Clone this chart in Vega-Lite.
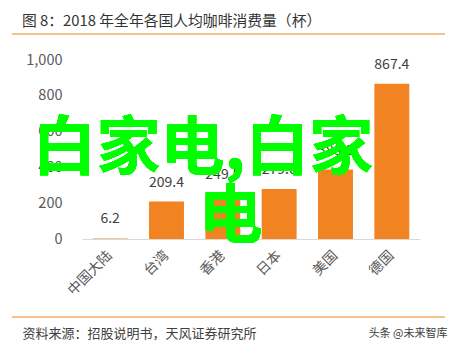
{
  "$schema": "https://vega.github.io/schema/vega-lite/v6.json",
  "autosize": {"type": "none"},
  "width": 338,
  "height": 179,
  "padding": {"left": 82, "top": 60, "right": 37, "bottom": 112},
  "background": "white",
  "config": {"view": {"stroke": null}, "font": "Noto Sans CJK SC"},
  "title": {
    "text": "图 8：2018 年全年各国人均咖啡消费量（杯）",
    "anchor": "start",
    "frame": "group",
    "dx": -60,
    "offset": -8,
    "baseline": "alphabetic",
    "fontSize": 14.8,
    "fontWeight": "normal",
    "color": "#333333",
    "font": "Noto Sans CJK SC"
  },
  "data": {
    "values": [
      {"region": "中国大陆", "cups": 6.2, "label": "6.2"},
      {"region": "台湾", "cups": 209.4, "label": "209.4"},
      {"region": "香港", "cups": 249.5, "label": "249.5"},
      {"region": "日本", "cups": 279.0, "label": "279.0"},
      {"region": "美国", "cups": 388.0, "label": "388.0"},
      {"region": "德国", "cups": 867.4, "label": "867.4"}
    ]
  },
  "encoding": {
    "x": {
      "field": "region",
      "type": "nominal",
      "sort": null,
      "scale": {"paddingInner": 0.38, "paddingOuter": 0.19},
      "axis": {
        "title": "资料来源：招股说明书，天风证券研究所",
        "titleAnchor": "start",
        "titleAlign": "left",
        "titleX": -60,
        "titleY": 94,
        "titleBaseline": "middle",
        "titleFontSize": 13,
        "titleFontWeight": "normal",
        "titleColor": "#404040",
        "labelAngle": -45,
        "labelAlign": "right",
        "labelBaseline": "middle",
        "labelFontSize": 14,
        "labelColor": "#595959",
        "labelPadding": 14,
        "ticks": false,
        "domainColor": "#d9d9d9",
        "domainWidth": 1.2
      }
    },
    "y": {
      "field": "cups",
      "type": "quantitative",
      "scale": {"domain": [0, 1000], "nice": false},
      "axis": {
        "values": [0, 200, 400, 600, 800, 1000],
        "format": ",d",
        "grid": false,
        "domain": false,
        "ticks": false,
        "labelPadding": 20,
        "labelFontSize": 14.5,
        "labelColor": "#595959",
        "title": "头条 @未来智库",
        "titleAngle": 0,
        "titleAlign": "right",
        "titleX": 365,
        "titleY": 273,
        "titleBaseline": "middle",
        "titleFontSize": 11,
        "titleFontWeight": "normal",
        "titleColor": "#404040"
      }
    }
  },
  "layer": [
    {
      "mark": {"type": "bar", "color": "#F28322"},
      "encoding": {
        "color": {
          "condition": {"test": "datum.cups < 10", "value": "#F5C49A"},
          "value": "#F28322"
        }
      }
    },
    {
      "mark": {"type": "text", "baseline": "bottom", "dy": -12, "fontSize": 14, "color": "#404040"},
      "encoding": {"text": {"field": "label"}}
    },
    {
      "mark": {"type": "rule", "color": "#F3C38E", "strokeWidth": 1.5},
      "encoding": {"x": {"value": -70}, "x2": {"value": 363}, "y": {"value": -26}}
    },
    {
      "mark": {"type": "rule", "color": "#F3C38E", "strokeWidth": 1.5},
      "encoding": {"x": {"value": -70}, "x2": {"value": 363}, "y": {"value": 257}}
    },
    {
      "mark": {"type": "text", "text": "白家电,白家", "fontSize": 64, "fontWeight": "bold", "color": "#00FF00", "align": "center", "baseline": "middle", "dx": -20, "font": "Noto Sans CJK SC"},
      "encoding": {"x": {"datum": "香港"}, "y": {"datum": 497}}
    },
    {
      "mark": {"type": "text", "text": "电", "fontSize": 64, "fontWeight": "bold", "color": "#00FF00", "align": "center", "baseline": "middle", "dx": 8, "font": "Noto Sans CJK SC"},
      "encoding": {"x": {"datum": "香港"}, "y": {"datum": 117}}
    }
  ]
}
